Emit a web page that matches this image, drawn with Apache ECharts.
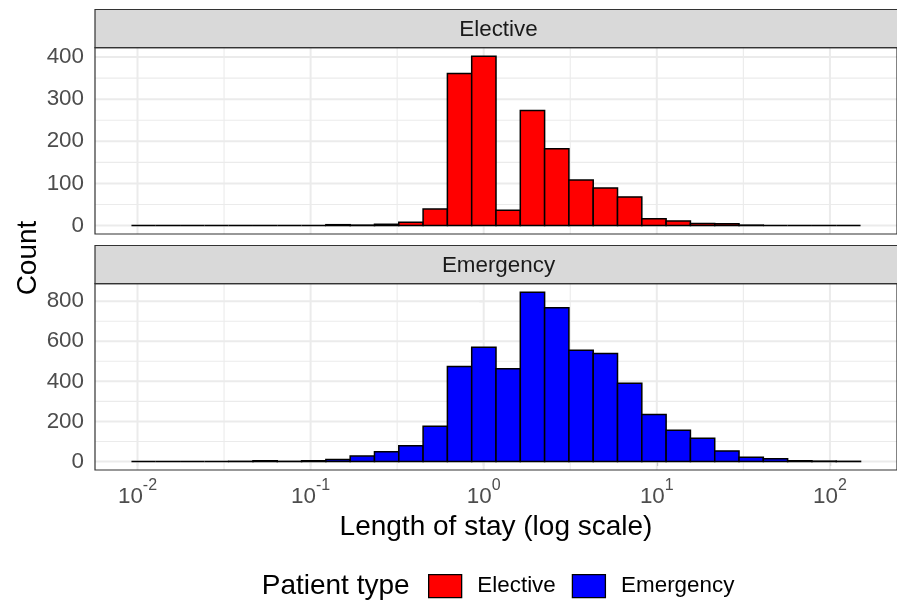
<!DOCTYPE html>
<html>
<head>
<meta charset="utf-8">
<script src="https://cdn.jsdelivr.net/npm/echarts@6/dist/echarts.min.js"></script>
<style>
  html, body { margin: 0; padding: 0; background: #ffffff; }
  #chart { width: 897px; height: 607px; }
</style>
</head>
<body>
<div id="chart"></div>
<script>
// Histogram of log10(length of stay): 30 equal-width bins shared by both panels
const logLow = -2.035;
const binWidth = 0.1404;
const binCount = 30;

const electiveCounts = [0, 0, 0, 0, 0, 0, 0, 0, 2, 1, 3, 8, 39, 361, 402, 36, 273, 182, 108, 89, 68, 16, 11, 5, 4, 1, 0, 0, 0, 0];
const emergencyCounts = [0, 0, 0, 0, 1, 4, 1, 4, 10, 27, 49, 79, 176, 474, 570, 463, 845, 767, 555, 539, 391, 235, 156, 116, 53, 21, 14, 4, 2, 1];

const panelNames = ['Elective', 'Emergency'];
const fillColors = ['#FF0000', '#0000FF'];

// Axis breaks (x in log10 units)
const xExponents = [-2, -1, 0, 1, 2];
const xMinorBreaks = [-1.5, -0.5, 0.5, 1.5];
const electiveBreaks = [0, 100, 200, 300, 400];
const electiveMinorBreaks = [50, 150, 250, 350];
const emergencyBreaks = [0, 200, 400, 600, 800];
const emergencyMinorBreaks = [100, 300, 500, 700];

const FONT = "'Liberation Sans', Arial, Helvetica, sans-serif";

// 5% padding on each side of the data range
const xHigh = logLow + binCount * binWidth;
const xPad = 0.05 * (xHigh - logLow);
function yRange(counts) {
  const m = Math.max(...counts);
  return [-0.05 * m, 1.05 * m];
}

function binData(counts) {
  return counts.map((c, i) => [logLow + i * binWidth, logLow + (i + 1) * binWidth, c]);
}

function renderBar(params, api) {
  const a = api.coord([api.value(0), 0]);
  const b = api.coord([api.value(1), api.value(2)]);
  return {
    type: 'rect',
    shape: { x: a[0], y: b[1], width: b[0] - a[0], height: a[1] - b[1] },
    style: { fill: api.visual('color'), stroke: '#000000', lineWidth: 1.5 }
  };
}

// Panel grid lines: [orientation (0 = vertical, 1 = horizontal), value, isMajor]
function gridLineData(xMajor, xMinor, yMajor, yMinor) {
  return [].concat(
    xMinor.map(v => [0, v, 0]),
    yMinor.map(v => [1, v, 0]),
    xMajor.map(v => [0, v, 1]),
    yMajor.map(v => [1, v, 1])
  );
}

function renderGridLine(params, api) {
  const cs = params.coordSys;
  const vertical = api.value(0) === 0;
  const v = api.value(1);
  const width = api.value(2) ? 2 : 1.1;
  let shape;
  if (vertical) {
    const p = api.coord([v, 0]);
    shape = { x1: p[0], y1: cs.y, x2: p[0], y2: cs.y + cs.height };
  } else {
    const p = api.coord([logLow, v]);
    shape = { x1: cs.x, y1: p[1], x2: cs.x + cs.width, y2: p[1] };
  }
  return { type: 'line', shape: shape, style: { stroke: '#EBEBEB', lineWidth: width } };
}

const panelTops = [47.7, 283.7];
const panelHeight = 186.3;
const stripHeight = 38.2;

const chart = echarts.init(document.getElementById('chart'), null, { renderer: 'canvas' });

const yAxisBase = (range, breaks) => ({
  type: 'value',
  min: range[0],
  max: range[1],
  axisLine: { show: false },
  axisTick: { show: true, customValues: breaks, length: 4.5, lineStyle: { color: '#333333', width: 1.1 } },
  axisLabel: { show: true, customValues: breaks, fontSize: 22.4, color: '#4D4D4D', margin: 11, fontFamily: FONT },
  splitLine: { show: false },
  minorSplitLine: { show: false }
});

const gridSeries = (idx, yMajor, yMinor) => ({
  type: 'custom', xAxisIndex: idx, yAxisIndex: idx, z: 1, silent: true,
  renderItem: renderGridLine,
  encode: { x: 1, y: 1 },
  data: gridLineData(xExponents, xMinorBreaks, yMajor, yMinor)
});

const option = {
  animation: false,
  textStyle: { fontFamily: FONT },
  tooltip: { show: false },
  grid: panelTops.map(t => ({
    left: 95, top: t, width: 807, height: panelHeight,
    show: true, z: 4,
    backgroundColor: 'rgba(0,0,0,0)',
    borderColor: '#333333', borderWidth: 1.2
  })),
  xAxis: [
    {
      type: 'value', gridIndex: 0, min: logLow - xPad, max: xHigh + xPad,
      axisLine: { show: false }, axisTick: { show: false }, axisLabel: { show: false },
      splitLine: { show: false }
    },
    {
      type: 'value', gridIndex: 1, min: logLow - xPad, max: xHigh + xPad,
      axisLine: { show: false },
      axisTick: { show: true, customValues: xExponents, length: 4.5, lineStyle: { color: '#333333', width: 1.1 } },
      axisLabel: {
        show: true, customValues: xExponents, margin: 8,
        formatter: v => '{b|10}{e|' + v + '}',
        rich: {
          b: { fontSize: 22.4, color: '#4D4D4D', fontFamily: FONT, verticalAlign: 'bottom', lineHeight: 30 },
          e: { fontSize: 16, color: '#4D4D4D', fontFamily: FONT, verticalAlign: 'top', lineHeight: 16 }
        }
      },
      splitLine: { show: false },
      name: 'Length of stay (log scale)',
      nameLocation: 'middle',
      nameGap: 43,
      nameTextStyle: { fontSize: 28, color: '#000000', fontFamily: FONT }
    }
  ],
  yAxis: [
    Object.assign({ gridIndex: 0 }, yAxisBase(yRange(electiveCounts), electiveBreaks)),
    Object.assign({ gridIndex: 1 }, yAxisBase(yRange(emergencyCounts), emergencyBreaks))
  ],
  legend: {
    data: panelNames,
    left: 428, top: 574,
    orient: 'horizontal',
    icon: 'rect',
    itemWidth: 33, itemHeight: 23, itemGap: 16,
    padding: 0,
    itemStyle: { borderColor: '#000000', borderWidth: 1.3 },
    textStyle: { fontSize: 22.4, color: '#000000', fontFamily: FONT, padding: [0, 0, 0, 10.7] },
    selectedMode: false
  },
  series: [
    gridSeries(0, electiveBreaks, electiveMinorBreaks),
    gridSeries(1, emergencyBreaks, emergencyMinorBreaks),
    {
      name: panelNames[0], type: 'custom', xAxisIndex: 0, yAxisIndex: 0, z: 3,
      renderItem: renderBar,
      itemStyle: { color: fillColors[0] },
      encode: { x: [0, 1], y: 2 },
      data: binData(electiveCounts)
    },
    {
      name: panelNames[1], type: 'custom', xAxisIndex: 1, yAxisIndex: 1, z: 3,
      renderItem: renderBar,
      itemStyle: { color: fillColors[1] },
      encode: { x: [0, 1], y: 2 },
      data: binData(emergencyCounts)
    }
  ],
  graphic: [].concat(
    panelTops.map((t, i) => ({
      type: 'rect', z: 5,
      shape: { x: 95, y: t - stripHeight, width: 812, height: stripHeight },
      style: { fill: '#D9D9D9', stroke: '#333333', lineWidth: 1.2 }
    })),
    panelTops.map((t, i) => ({
      type: 'text', z: 6,
      x: 498.5, y: t - stripHeight / 2 + 1,
      style: { text: panelNames[i], fontSize: 22.4, fill: '#1A1A1A', fontFamily: FONT, align: 'center', verticalAlign: 'middle' }
    })),
    [
      {
        type: 'text', z: 6, x: 28, y: 258, rotation: Math.PI / 2,
        style: { text: 'Count', fontSize: 28, fill: '#000000', fontFamily: FONT, align: 'center', verticalAlign: 'middle' }
      },
      {
        type: 'text', z: 6, x: 261.7, y: 586,
        style: { text: 'Patient type', fontSize: 28, fill: '#000000', fontFamily: FONT, align: 'left', verticalAlign: 'middle' }
      }
    ]
  )
};

chart.setOption(option);
</script>
</body>
</html>
